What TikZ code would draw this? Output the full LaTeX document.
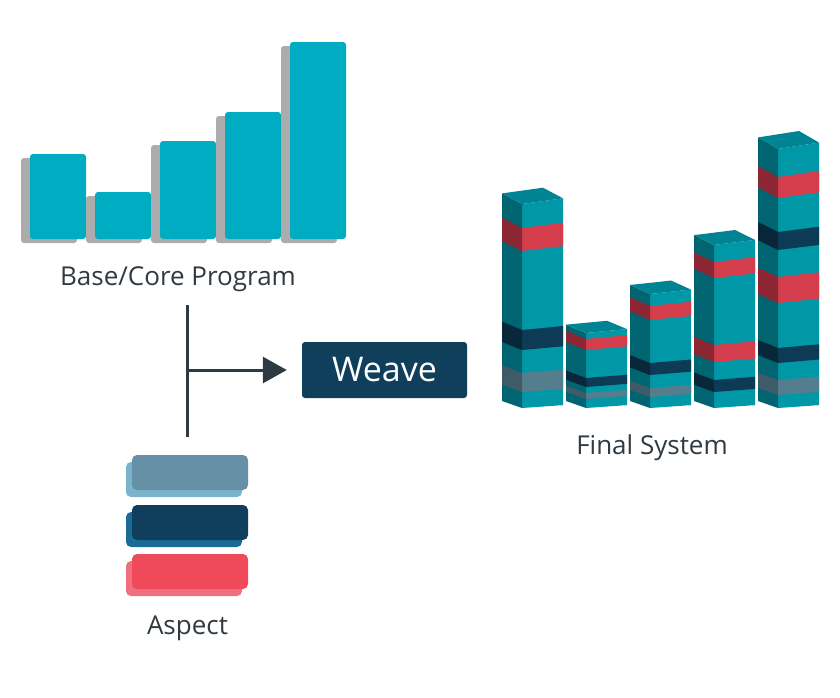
\documentclass[tikz,border=0pt]{standalone}
\usepackage{fontspec}
\setmainfont{Open Sans}
\usetikzlibrary{arrows.meta}
\definecolor{barc}{RGB}{0,172,193}
\definecolor{shadowc}{RGB}{172,172,172}
\definecolor{txtc}{RGB}{48,58,64}
\definecolor{linec}{RGB}{46,58,66}
\definecolor{weavec}{RGB}{16,63,92}
\definecolor{tealF}{RGB}{0,151,167}
\definecolor{tealL}{RGB}{0,101,113}
\definecolor{tealT}{RGB}{0,132,147}
\definecolor{redF}{RGB}{212,61,76}
\definecolor{redL}{RGB}{139,38,50}
\definecolor{navyF}{RGB}{13,59,86}
\definecolor{navyL}{RGB}{8,40,58}
\definecolor{greyF}{RGB}{84,126,142}
\definecolor{greyL}{RGB}{62,92,104}
\definecolor{asp1F}{RGB}{102,144,166}
\definecolor{asp1B}{RGB}{122,180,204}
\definecolor{asp2F}{RGB}{15,63,92}
\definecolor{asp2B}{RGB}{26,108,148}
\definecolor{asp3F}{RGB}{239,74,90}
\definecolor{asp3B}{RGB}{240,110,126}
\newcommand\colband[5]{%
  \pgfmathsetmacro\sa{0.35+(408-#2)*0.000882}%
  \pgfmathsetmacro\sb{0.35+(408-#3)*0.000882}%
  \pgfmathsetmacro\wa{0.07+(408-#2)*0.000343}%
  \pgfmathsetmacro\wb{0.07+(408-#3)*0.000343}%
  \fill[#4] (#1,#2) -- (#1+41,#2-41*\wa) -- (#1+41,#3-41*\wb) -- (#1,#3) -- cycle;
  \fill[#5] (#1,#2) -- (#1-20,#2-20*\sa) -- (#1-20,#3-20*\sb) -- (#1,#3) -- cycle;
}
\newcommand\coltop[2]{%
  \pgfmathsetmacro\st{0.35+(408-#2)*0.000882}%
  \pgfmathsetmacro\wt{0.07+(408-#2)*0.000343}%
  \fill[tealT] (#1,#2) -- (#1+41,#2-41*\wt) -- (#1+21,#2-41*\wt-20*\st) -- (#1-20,#2-20*\st) -- cycle;
}
\tikzset{
  lbl/.style={text=txtc, font=\fontsize{26}{31}\selectfont, inner sep=0pt, anchor=base},
  weavebox/.style={fill=weavec, rounded corners=3pt, minimum width=165pt, minimum height=56pt, inner sep=0pt, text=white, font=\fontsize{34}{40}\selectfont},
  conn/.style={draw=linec, line width=3pt},
  barbox/.style={fill=barc, rounded corners=3pt},
  barshadow/.style={fill=shadowc, rounded corners=3pt},
}
\begin{document}
\begin{tikzpicture}[x=1pt,y=-1pt]
\fill[white] (0,0) rectangle (840,697);
\useasboundingbox (0,0) rectangle (840,697);
% base program bars
\foreach \x/\t in {30/154, 95/192, 160/141, 225/112, 290/42}{
  \fill[barshadow] (\x-9,\t+4) rectangle (\x+47,243);
  \fill[barbox] (\x,\t) rectangle (\x+56,239);
}
\node[lbl] (base) at (178,285) {Base/Core Program};
% connector
\coordinate (vtop) at (187,305);
\coordinate (vbot) at (187,437);
\coordinate (junc) at (187,370);
\node[weavebox] (weave) at (384.5,370) {Weave};
\draw[conn] (vtop) -- (vbot);
\draw[conn, -{Triangle[length=24pt,width=26pt]}, shorten >=15pt] (junc) -- (weave.west);
% aspect stack
\foreach \y/\f/\b in {455/asp1F/asp1B, 505/asp2F/asp2B, 554/asp3F/asp3B}{
  \fill[\b, rounded corners=5pt] (126,\y+7) rectangle (242,\y+42);
  \fill[\f, rounded corners=5pt] (132,\y) rectangle (248,\y+35);
}
\node[lbl] (aspect) at (187.5,634) {Aspect};
% final system columns
% col1
\colband{522}{408}{204}{tealF}{tealL}
\colband{522}{392}{373}{greyF}{greyL}
\colband{522}{350}{330}{navyF}{navyL}
\colband{522}{251}{228}{redF}{redL}
\coltop{522}{204}
% col2
\colband{586}{408}{333}{tealF}{tealL}
\colband{586}{399}{393}{greyF}{greyL}
\colband{586}{387}{378}{navyF}{navyL}
\colband{586}{350}{339}{redF}{redL}
\coltop{586}{333}
% col3
\colband{650}{408}{294}{tealF}{tealL}
\colband{650}{397}{388}{greyF}{greyL}
\colband{650}{375}{363}{navyF}{navyL}
\colband{650}{320}{306}{redF}{redL}
\coltop{650}{294}
% col4
\colband{714}{408}{245}{tealF}{tealL}
\colband{714}{392}{380}{navyF}{navyL}
\colband{714}{362}{345}{redF}{redL}
\colband{714}{278}{262}{redF}{redL}
\coltop{714}{245}
% col5
\colband{778}{408}{149}{tealF}{tealL}
\colband{778}{395}{380}{greyF}{greyL}
\colband{778}{363}{348}{navyF}{navyL}
\colband{778}{303}{277}{redF}{redL}
\colband{778}{250}{232}{navyF}{navyL}
\colband{778}{198}{177}{redF}{redL}
\coltop{778}{149}
\node[lbl] (final) at (652,454) {Final System};
\end{tikzpicture}
\end{document}
